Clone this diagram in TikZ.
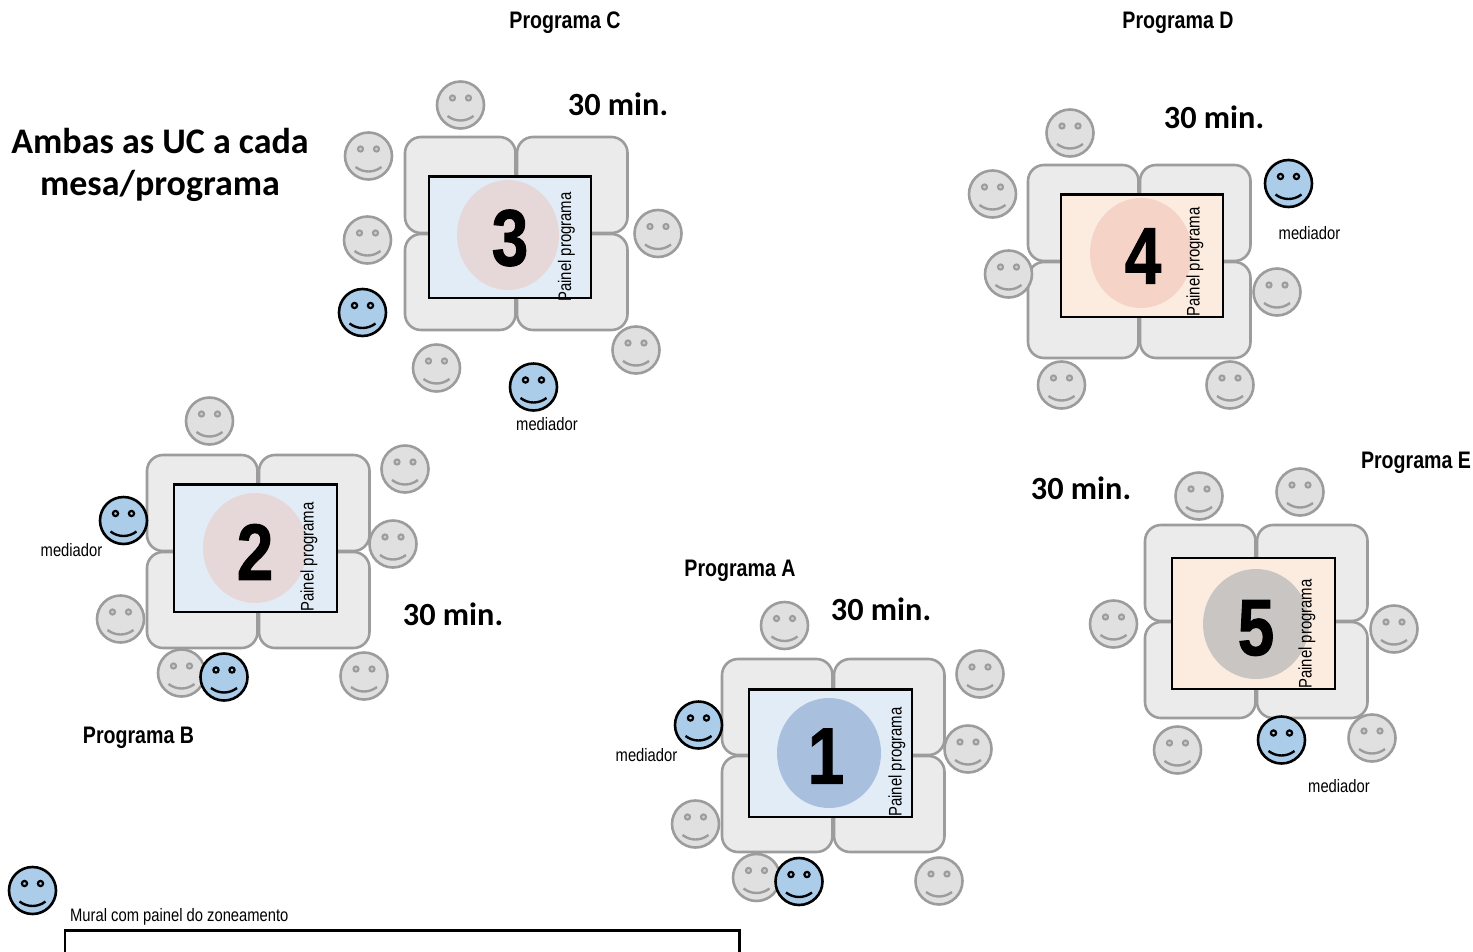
\documentclass[tikz,border=0pt]{standalone}
\usepackage{fontspec}
\setmainfont{Liberation Sans}
\newfontfamily\narrowf[FakeStretch=0.82]{Liberation Sans}
\newfontfamily\numf[FakeStretch=0.82,BoldFeatures={FakeBold=1.2}]{Liberation Sans}
\newfontfamily\carl{Carlito}
\usetikzlibrary{calc}
\definecolor{tablefill}{HTML}{EBEBEB}
\definecolor{tableline}{HTML}{9C9C9C}
\definecolor{faceg}{HTML}{E0E0E0}
\definecolor{faceb}{HTML}{ABCDEA}
\definecolor{panelblue}{HTML}{E2ECF7}
\definecolor{panelpeach}{HTML}{FCEBDF}
\definecolor{disc1}{HTML}{A8C0DE}
\definecolor{disc2}{HTML}{E6D8D8}
\definecolor{disc4}{HTML}{F5D3C7}
\definecolor{disc5}{HTML}{C9C5C2}
\tikzset{
  x=1pt,y=-1pt,
  seat/.style={draw=tableline,fill=tablefill,line width=2.6pt,rounded corners=16pt},
  panel/.style={draw=black,line width=2.6pt},
  prog/.style={font=\narrowf\bfseries\fontsize{23.9}{25}\selectfont,inner sep=0pt},
  mins/.style={font=\carl\bfseries\fontsize{32.3}{34}\selectfont,inner sep=0pt},
  small/.style={font=\narrowf\fontsize{18}{20}\selectfont,inner sep=0pt},
  painel/.style={font=\narrowf\fontsize{18.2}{20}\selectfont,inner sep=0pt,rotate=90},
  num/.style={font=\numf\bfseries\fontsize{80}{82}\selectfont,inner sep=0pt},
  faceg/.style={circle,draw=tableline,fill=faceg,line width=2.6pt,minimum size=47pt,inner sep=0pt},
  faceb/.style={circle,draw=black,fill=faceb,line width=2.6pt,minimum size=47pt,inner sep=0pt},
}
\newcommand{\tablegroup}[3]{%
\path[seat] (#1) rectangle ++(110.5,96);
\path[seat] ($(#1)+(112,0)$) rectangle ++(110.5,96);
\path[seat] ($(#1)+(0,97)$) rectangle ++(110.5,96);
\path[seat] ($(#1)+(112,97)$) rectangle ++(110.5,96);
\path[panel,fill=#3] #2;
}
\newcommand{\gface}[3]{%
\node[faceg] (#1) at (#2,#3) {};
\fill[faceg!70!tableline,draw=tableline,line width=2pt] (#2-8,#3-7) circle (2.6);
\fill[faceg!70!tableline,draw=tableline,line width=2pt] (#2+8,#3-7) circle (2.6);
\draw[tableline,line width=2.4pt] (#2-13,#3+11) .. controls (#2-5,#3+17) and (#2+5,#3+17) .. (#2+13,#3+11);
}
\newcommand{\bface}[3]{%
\node[faceb] (#1) at (#2,#3) {};
\fill[faceb,draw=black,line width=2.2pt] (#2-8,#3-7) circle (2.6);
\fill[faceb,draw=black,line width=2.2pt] (#2+8,#3-7) circle (2.6);
\draw[black,line width=2.4pt] (#2-13,#3+11) .. controls (#2-5,#3+17) and (#2+5,#3+17) .. (#2+13,#3+11);
}
\begin{document}
\begin{tikzpicture}
\useasboundingbox (0,0) rectangle (1473,951);
\path[clip] (0,0) rectangle (1473,951);
\draw[black,line width=2.4pt] (65,960) -- (65,930.5) -- (739.5,930.5) -- (739.5,960);
\node[small,anchor=west] (muraltxt) at (70,917) {Mural com painel do zoneamento};
% Table 3
\tablegroup{405,137}{(429,176.5) rectangle (591,298)}{panelblue}
\fill[disc2] (508,235) ellipse (51 and 55);
\node[num] (n3) at (510,238) {3};
\node[painel] (p3) at (566.5,247) {Painel programa};
% Table 4
\tablegroup{1028,165}{(1061,194.5) rectangle (1223,317)}{panelpeach}
\fill[disc4] (1141,253) ellipse (51 and 55);
\node[num] (n4) at (1143,256) {4};
\node[painel] (p4) at (1195,262) {Painel programa};
% Table 2
\tablegroup{147,455}{(174,484.5) rectangle (337,612)}{panelblue}
\fill[disc2] (255,548) ellipse (52 and 55);
\node[num] (n2) at (255,552) {2};
\node[painel] (p2) at (309,557) {Painel programa};
% Table 1
\tablegroup{722,659}{(749,689.5) rectangle (912,817)}{panelblue}
\fill[disc1] (829,753) ellipse (52 and 55);
\node[num] (n1) at (826,756) {1};
\node[painel] (p1) at (897,762) {Painel programa};
% Table 5
\tablegroup{1145,525}{(1172,558) rectangle (1335,689)}{panelpeach}
\fill[disc5] (1256,624) ellipse (53 and 55);
\node[num] (n5) at (1256,628) {5};
\node[painel] (p5) at (1307,634) {Painel programa};
% Faces
\gface{a1}{460.5}{105}\gface{a2}{368.5}{156}\gface{a3}{367.5}{240}\gface{a4}{658}{233.5}\gface{a5}{636}{350}\gface{a6}{436.5}{368}
\bface{a7}{362.5}{312.5}\bface{a8}{533.5}{387}
\gface{b1}{1070}{133}\gface{b2}{992.5}{194}\gface{b3}{1008.5}{274}\gface{b4}{1277}{292}\gface{b5}{1061.5}{385}\gface{b6}{1230}{385}
\bface{b7}{1288.5}{183.5}
\gface{c1}{209.5}{421}\gface{c2}{405}{469}\gface{c3}{393}{544}\gface{c4}{120.5}{619}\gface{c5}{181.5}{673}\gface{c6}{364}{676}
\bface{c7}{123.5}{520.5}\bface{c8}{224}{677}
\gface{d1}{784.5}{625.5}\gface{d2}{980}{674}\gface{d3}{968}{749}\gface{d4}{695.5}{824}\gface{d5}{756.5}{877.5}\gface{d6}{939}{881}
\bface{d7}{698.5}{725}\bface{d8}{799}{881.5}
\gface{e1}{1199}{496}\gface{e2}{1300}{492}\gface{e3}{1394}{629}\gface{e4}{1113.5}{624}\gface{e5}{1177.5}{750}\gface{e6}{1372}{738}
\bface{e7}{1281.5}{740}
\bface{f1}{32.5}{890.5}
% Labels
\node[prog] (pc) at (565,23) {Programa C};
\node[prog] (pd) at (1178,23) {Programa D};
\node[prog] (pe) at (1416,462.5) {Programa E};
\node[prog] (pa) at (740,570.5) {Programa A};
\node[prog] (pb) at (138.5,737.5) {Programa B};
\node[mins] (m3) at (618,104.5) {30 min.};
\node[mins] (m4) at (1214,117.5) {30 min.};
\node[mins] (m2) at (453,614.5) {30 min.};
\node[mins] (m1) at (881,609.5) {30 min.};
\node[mins] (m5) at (1081,488.5) {30 min.};
\node[small] (med3) at (547,424.5) {mediador};
\node[small] (med4) at (1309.5,233.5) {mediador};
\node[small] (med2) at (71.5,550.5) {mediador};
\node[small] (med1) at (646.5,755.5) {mediador};
\node[small] (med5) at (1339,786.5) {mediador};
\node[font=\carl\bfseries\fontsize{36}{42}\selectfont,align=center,inner sep=0pt] (title) at (160,164.5) {Ambas as UC a cada\\mesa/programa};
\end{tikzpicture}
\end{document}
